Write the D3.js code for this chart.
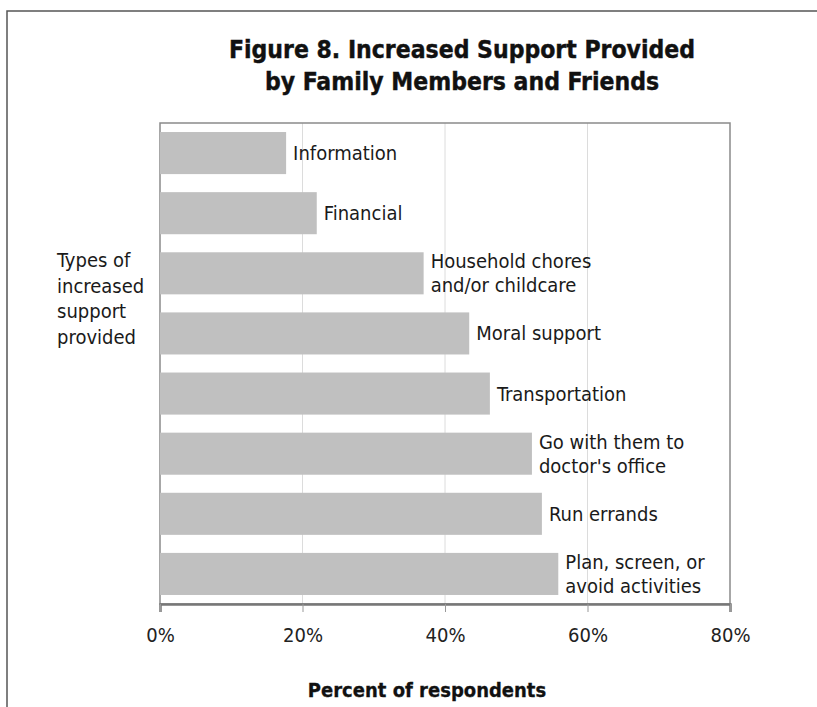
<!DOCTYPE html>
<html>
<head>
<meta charset="utf-8">
<script src="https://cdn.jsdelivr.net/npm/d3@7"></script>
<style>
  html, body { margin: 0; padding: 0; background: #fff; }
  svg { display: block; }
</style>
</head>
<body>
<svg id="chart" width="817" height="707"></svg>
<script>
const categories = [
  ["Information"],
  ["Financial"],
  ["Household chores", "and/or childcare"],
  ["Moral support"],
  ["Transportation"],
  ["Go with them to", "doctor's office"],
  ["Run errands"],
  ["Plan, screen, or", "avoid activities"]
];
const values = [17.7, 22.0, 37.0, 43.4, 46.3, 52.2, 53.6, 55.9];
const xTicks = [0, 20, 40, 60, 80];
const titleLines = ["Figure 8. Increased Support Provided", "by Family Members and Friends"];
const yTitleLines = ["Types of", "increased", "support", "provided"];
const xTitle = "Percent of respondents";

const font = "'DejaVu Sans Condensed', 'DejaVu Sans', sans-serif";
const svg = d3.select("#chart");

// outer frame
svg.append("rect").attr("x", 7).attr("y", 11).attr("width", 830).attr("height", 720)
  .attr("fill", "none").attr("stroke", "#555").attr("stroke-width", 1.5);

const L = 160, R = 730, T = 123, B = 604;
const x = d3.scaleLinear().domain([0, 80]).range([L, R]);
const y = d3.scaleBand().domain(d3.range(categories.length)).range([T, B])
  .paddingInner(0.3).paddingOuter(0.15);

// gridlines
svg.append("g").selectAll("line").data(xTicks.filter(t => t > 0 && t < 80)).join("line")
  .attr("x1", d => x(d)).attr("x2", d => x(d)).attr("y1", T).attr("y2", B)
  .attr("stroke", "#dcdcdc").attr("stroke-width", 1);

// plot frame
svg.append("rect").attr("x", L).attr("y", T).attr("width", R - L).attr("height", B - T)
  .attr("fill", "none").attr("stroke", "#8a8a8a").attr("stroke-width", 1.5);

// bars
svg.append("g").selectAll("rect").data(values).join("rect")
  .attr("x", x(0)).attr("y", (d, i) => y(i))
  .attr("width", d => x(d) - x(0)).attr("height", y.bandwidth())
  .attr("fill", "#c0c0c0");

// bar labels
const lab = svg.append("g").selectAll("text").data(values).join("text")
  .attr("font-family", font).attr("font-size", 20).attr("fill", "#1a1a1a")
  .attr("x", d => x(d) + 7)
  .attr("y", (d, i) => y(i) + y.bandwidth() / 2);
lab.each(function(d, i) {
  const lines = categories[i];
  const t = d3.select(this);
  const lh = 24;
  lines.forEach((s, k) => {
    t.append("tspan").attr("x", x(d) + 7)
      .attr("dy", k === 0 ? (7 - (lines.length - 1) * lh / 2) : lh)
      .text(s);
  });
});

// x axis
const axis = d3.axisBottom(x).tickValues(xTicks).tickFormat(d => d + "%").tickSize(8).tickPadding(16);
const ga = svg.append("g").attr("transform", `translate(0,${B})`).call(axis);
ga.select(".domain").attr("stroke", "#777").attr("stroke-width", 2.5);
ga.selectAll(".tick line").attr("stroke", "#999").attr("stroke-width", 1);
ga.selectAll(".tick text").attr("font-family", font).attr("font-size", 20).attr("fill", "#222");

// title
svg.append("text").attr("font-family", font).attr("font-size", 24.5).attr("font-weight", "bold")
  .attr("text-anchor", "middle").attr("fill", "#111")
  .attr("stroke", "#111").attr("stroke-width", 0.4)
  .selectAll("tspan").data(titleLines).join("tspan")
  .attr("x", 462).attr("y", (d, i) => 58 + i * 32).text(d => d);

// y title
svg.append("text").attr("font-family", font).attr("font-size", 20).attr("fill", "#1a1a1a")
  .selectAll("tspan").data(yTitleLines).join("tspan")
  .attr("x", 57).attr("y", (d, i) => 267 + i * 25.5).text(d => d);

// x title
svg.append("text").attr("font-family", font).attr("font-size", 20).attr("font-weight", "bold")
  .attr("text-anchor", "middle").attr("fill", "#111")
  .attr("stroke", "#111").attr("stroke-width", 0.3)
  .attr("x", 427).attr("y", 697).text(xTitle);
</script>
</body>
</html>
